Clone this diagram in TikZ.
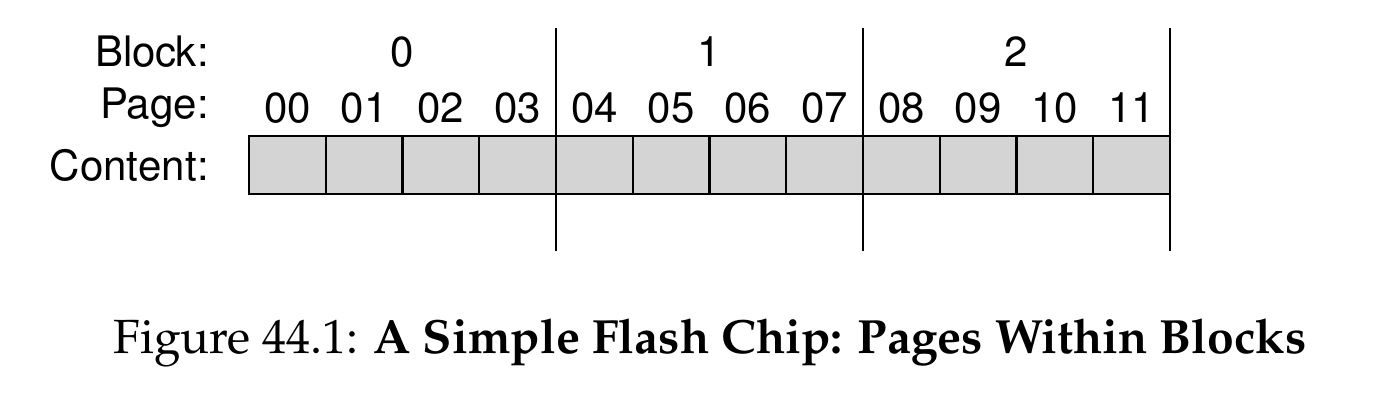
\documentclass[tikz,border=0pt]{standalone}
\usepackage[T1]{fontenc}
\usepackage{helvet}
\usepackage{mathpazo}
\usepackage{tikz}
\usetikzlibrary{positioning,calc}
\tikzset{
  cell/.style={rectangle, draw, line width=1.1pt, fill=black!17, inner sep=0pt,
               minimum width=38.375pt, minimum height=29pt},
  lbl/.style={font=\fontsize{21}{25}\sffamily\selectfont, inner sep=0pt, anchor=east},
  num/.style={font=\fontsize{21}{25}\sffamily\selectfont, inner sep=0pt},
  sep/.style={line width=1.1pt},
  capt/.style={font=\fontsize{24}{29}\rmfamily\selectfont, inner sep=0pt},
}
\begin{document}
\begin{tikzpicture}[x=0.5pt,y=-0.5pt]
\useasboundingbox (0,0) rectangle (1374,408);
% pages
\foreach \i/\n in {0/00,1/01,2/02,3/03,4/04,5/05,6/06,7/07,8/08,9/09,10/10,11/11}{
  \node[cell] (c\i) at ({249+76.75*(\i+0.5)},165) {};
  \node[num] (p\i) at ({249+76.75*(\i+0.5)},108) {\n};
}
% blocks
\node[num] (b0) at (402.5,52) {0};
\node[num] (b1) at (709.5,52) {1};
\node[num] (b2) at (1016.5,52) {2};
\coordinate (t1) at (556,28);  \coordinate (s1) at (556,251);
\coordinate (t2) at (863,28);  \coordinate (s2) at (863,251);
\coordinate (t3) at (1170,28); \coordinate (s3) at (1170,251);
\draw[sep] (t1) -- (s1);
\draw[sep] (t2) -- (s2);
\draw[sep] (t3) -- (s3);
\node[lbl] (lblock) at (209,52) {Block:};
\node[lbl] (lpage) at (209,108) {Page:};
\node[lbl] (lcont) at (209,165) {Content:};
\node[capt] (caption) at (710,343) {Figure 44.1: \textbf{A Simple Flash Chip: Pages Within Blocks}};
\end{tikzpicture}
\end{document}
